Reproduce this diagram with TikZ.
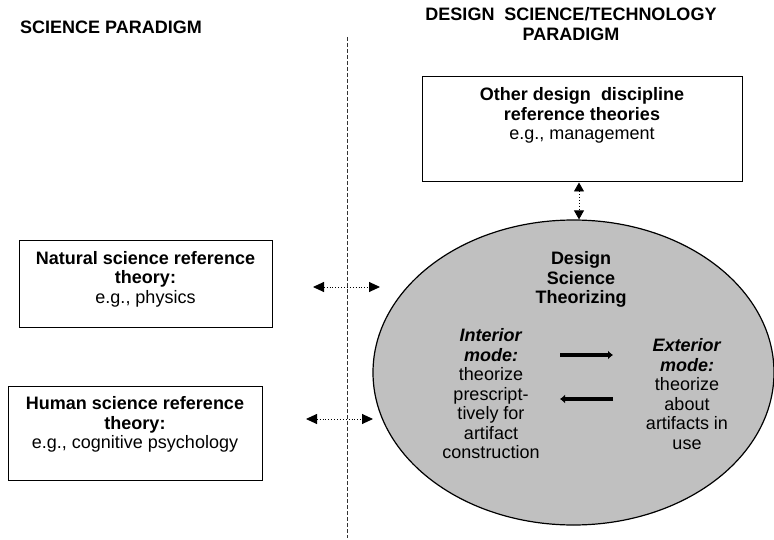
\documentclass[tikz,border=0pt]{standalone}
\usepackage{fontspec}
\setmainfont{Liberation Sans}
\usepackage{tikz}
\definecolor{dsgray}{HTML}{C0C0C0}
\tikzset{
paradigm/.style={font=\bfseries\fontsize{18}{20}\selectfont, align=center, inner sep=0pt},
refbox/.style={draw, line width=1pt},
reftext/.style={font=\fontsize{18}{19.5}\selectfont, align=center, inner sep=0pt},
theorizing/.style={ellipse, draw, line width=1.2pt, fill=dsgray, inner sep=0pt},
divider/.style={line width=1pt, black!80, dash pattern=on 4pt off 2pt},
linkh/.style={{Triangle[length=11pt,width=10pt]}-{Triangle[length=11pt,width=10pt]}, dotted, line width=0.9pt},
linkv/.style={{Triangle[length=9pt,width=10pt]}-{Triangle[length=9pt,width=10pt]}, dotted, line width=0.9pt},
modeflow/.style={-{Latex[length=5pt,width=9pt]}, line width=4.5pt}
}
\usetikzlibrary{arrows.meta, positioning, shapes.geometric}

\begin{document}
\begin{tikzpicture}[x=1pt, y=-1pt]
			\useasboundingbox (0,0) rectangle (774,540);
			% ---- paradigms
			\node[paradigm, anchor=west] (sci) at (20,27) {SCIENCE PARADIGM};
			\node[paradigm, anchor=north] (dst) at (571,7.5) {DESIGN\ \ SCIENCE/TECHNOLOGY\\PARADIGM};
			\coordinate (div-top) at (347,37);
			\coordinate (div-bot) at (347,538);
			\draw[divider] (div-top) -- (div-bot);
			% ---- reference theories
			\node[refbox, minimum width=320pt, minimum height=105pt] (other) at (582,129.5) {};
			\node[reftext, below = 11pt of other.north] (other-txt) {\textbf{Other design\ \ discipline}\\\textbf{reference theories}\\e.g., management};
			\node[refbox, minimum width=253pt, minimum height=86pt] (nat) at (145.5,284) {};
			\node[reftext, below = 10.5pt of nat.north] (nat-txt) {\textbf{Natural science reference}\\\textbf{theory:}\\e.g., physics};
			\node[refbox, minimum width=254pt, minimum height=94pt] (hum) at (135,433) {};
			\node[reftext, below = 11pt of hum.north] (hum-txt) {\textbf{Human science reference}\\\textbf{theory:}\\e.g., cognitive psychology};
			% ---- design science theorizing
			\node[theorizing, minimum width=401pt, minimum height=305pt] (dsr) at (573.5,372.5) {};
			\node[reftext] (dsr-txt) at (581,279.5) {\textbf{Design}\\\textbf{Science}\\\textbf{Theorizing}};
			\node[reftext] (int) at (491,394) {\textbf{\textit{Interior}}\\\textbf{\textit{mode:}}\\theorize\\prescript-\\tively for\\artifact\\construction};
			\node[reftext] (ext) at (687,394) {\textbf{\textit{Exterior}}\\\textbf{\textit{mode:}}\\theorize\\about\\artifacts in\\use};
			\coordinate (int-top) at (560,355);
			\coordinate (ext-top) at (613,355);
			\coordinate (int-bot) at (560,399);
			\coordinate (ext-bot) at (613,399);
			\draw[modeflow] (int-top) -- (ext-top);
			\draw[modeflow] (ext-bot) -- (int-bot);
			% ---- links
			\draw[linkv] ([xshift=-3pt]other.south) -- ([xshift=-3pt]other.south |- dsr.north);
			\coordinate (nat-l) at (313,287);
			\coordinate (nat-r) at (380,287);
			\coordinate (hum-l) at (306,419);
			\coordinate (hum-r) at (373,419);
			\draw[linkh] (nat-l) -- (nat-r);
			\draw[linkh] (hum-l) -- (hum-r);
		\end{tikzpicture}
\end{document}
